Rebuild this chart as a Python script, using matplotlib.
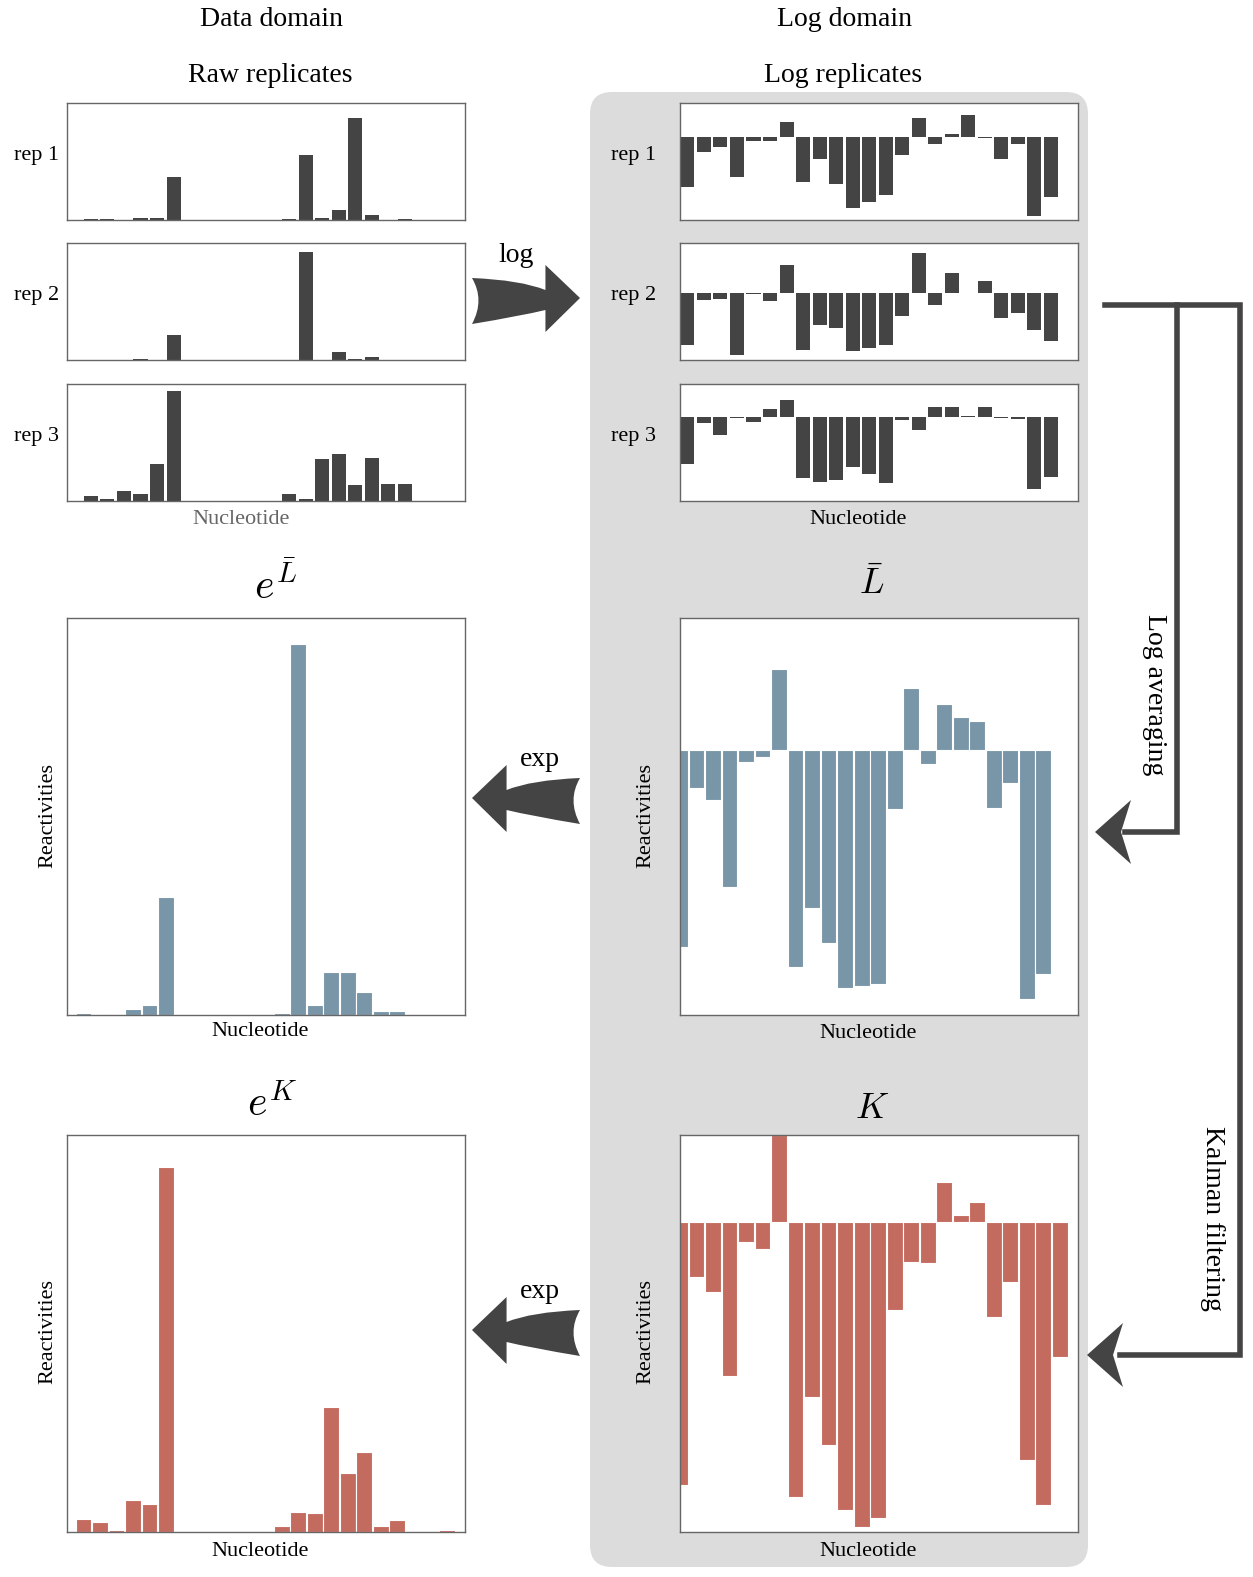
import matplotlib
matplotlib.use('Agg')
import matplotlib.pyplot as plt
import numpy as np
from matplotlib.patches import FancyBboxPatch, PathPatch
from matplotlib.path import Path

plt.rcParams['font.family'] = ['Liberation Serif', 'DejaVu Serif']
plt.rcParams['mathtext.fontset'] = 'cm'

W, H = 1253, 1577
N = 24
idx = np.arange(N)

# raw replicates (data domain)
raw1 = [0, 1, 1, 0, 2, 2, 43, 0, 0, 0, 0, 0, 0, 1, 65, 2, 10, 102, 5, 0, 1, 0, 0, 0]
raw2 = [0, 0, 0, 0, 1, 0, 25, 0, 0, 0, 0, 0, 0, 0, 108, 0, 8, 1, 3, 0, 0, 0, 0, 0]
raw3 = [0, 5, 2, 10, 7, 37, 110, 0, 0, 0, 0, 0, 0, 7, 2, 42, 47, 16, 43, 17, 17, 0, 0, 0]
# log replicates
log1 = [-50, -15, -10, -40, -4, -4, 15, -45, -22, -47, -71, -65, -58, -18, 19, -7, 3, 22, -1, -22, -7, -79, -60, 0]
log2 = [-52, -7, -6, -62, -1, -8, 28, -57, -32, -35, -58, -55, -52, -23, 40, -12, 20, 0, 12, -25, -20, -37, -48, 0]
log3 = [-47, -6, -18, -1, -5, 8, 17, -61, -65, -63, -50, -57, -66, -3, -13, 10, 10, 1, 10, -1, -2, -72, -60, 0]
# log average and its exp
lbar = [-197, -38, -50, -137, -12, -7, 81, -217, -158, -193, -238, -236, -234, -59, 62, -14, 46, 33, 29, -58, -33, -249, -224, 0]
exp_lbar = [0, 2, 1, 1, 6, 10, 118, 0, 0, 0, 0, 0, 0, 2, 371, 10, 43, 43, 23, 4, 4, 0, 0, 0]
# kalman filtered and its exp
kal = [-263, -55, -70, -154, -20, -27, 87, -275, -175, -223, -288, -305, -296, -88, -40, -41, 40, 7, 20, -95, -60, -238, -283, -135]
exp_kal = [0, 13, 10, 2, 32, 28, 365, 1, 0, 0, 0, 0, 0, 6, 20, 19, 125, 59, 80, 6, 12, 0, 0, 2]

DARK = '#444444'
BLUE = '#7896a8'
RED = '#c46b60'

fig = plt.figure(figsize=(W / 100, H / 100), dpi=100)

# overlay for decorations in pixel coords
ov = fig.add_axes([0, 0, 1, 1])
ov.set_xlim(0, W)
ov.set_ylim(H, 0)
ov.axis('off')
ov.add_patch(FancyBboxPatch((590, 92), 498, 1475, boxstyle='round,pad=0,rounding_size=22',
                            fc='#dcdcdc', ec='none', zorder=0))


def pax(x0, y0, x1, y1, xlim=(0, 24.1)):
    a = fig.add_axes([x0 / W, 1 - y1 / H, (x1 - x0) / W, (y1 - y0) / H])
    a.set_facecolor('white')
    a.set_xticks([])
    a.set_yticks([])
    for s in a.spines.values():
        s.set_color('#666666')
        s.set_linewidth(1)
    a.set_xlim(*xlim)
    return a


def bars(a, vals, color, width, ylim):
    a.bar(idx, vals, width=width, color=color, edgecolor='white' if width > 0.9 else 'none', linewidth=0.8)
    a.set_ylim(*ylim)


rep_y = [(103, 220), (243, 360), (384, 501)]
raws = [raw1, raw2, raw3]
logs = [log1, log2, log3]
log_ylims = [(-83, 34), (-67, 50), (-84, 33)]
for k in range(3):
    y0, y1 = rep_y[k]
    a = pax(67, y0, 465, y1, xlim=(-0.45, 23.65))
    bars(a, raws[k], DARK, 0.85, (0, 117))
    a.text(-0.02, 0.55, 'rep %d' % (k + 1), transform=a.transAxes, ha='right', va='center', fontsize=16)
    b = pax(680, y0, 1078, y1, xlim=(-0.45, 23.65))
    bars(b, logs[k], DARK, 0.85, log_ylims[k])
    b.text(-0.06, 0.55, 'rep %d' % (k + 1), transform=b.transAxes, ha='right', va='center', fontsize=16)

a = pax(67, 618, 465, 1015)
bars(a, exp_lbar, BLUE, 0.95, (0, 397))
a = pax(680, 618, 1078, 1015)
bars(a, lbar, BLUE, 0.95, (-265, 132))
a = pax(67, 1135, 465, 1532)
bars(a, exp_kal, RED, 0.95, (0, 397))
a = pax(680, 1135, 1078, 1532)
bars(a, kal, RED, 0.95, (-310, 87))

# texts
t = dict(ha='center', va='center', fontsize=20)
ov.text(272, 20, 'Data domain', **t)
ov.text(845, 20, 'Log domain', **t)
ov.text(270, 75, 'Raw replicates', **t)
ov.text(843, 75, 'Log replicates', **t)
ov.text(241, 520, 'Nucleotide', ha='center', va='center', fontsize=16, color='#666666')
ov.text(858, 520, 'Nucleotide', ha='center', va='center', fontsize=16)
for y in (1031, 1552):
    ov.text(260, y, 'Nucleotide', ha='center', va='center', fontsize=16)
for y in (1034, 1552):
    ov.text(868, y, 'Nucleotide', ha='center', va='center', fontsize=16)
for x in (48, 646):
    for y in (815, 1332):
        ov.text(x, y, 'Reactivities', ha='center', va='center', rotation=90, fontsize=16)
ov.text(275, 585, r'$e^{\bar{L}}$', ha='center', va='center', fontsize=30)
ov.text(872, 585, r'$\bar{L}$', ha='center', va='center', fontsize=26)
ov.text(272, 1105, r'$e^{K}$', ha='center', va='center', fontsize=30)
ov.text(872, 1110, r'$K$', ha='center', va='center', fontsize=26)
ov.text(516, 255, 'log', ha='center', va='center', fontsize=20)
ov.text(540, 760, 'exp', ha='center', va='center', fontsize=20)
ov.text(540, 1292, 'exp', ha='center', va='center', fontsize=20)
ov.text(1155, 695, 'Log averaging', ha='center', va='center', rotation=-90, fontsize=20)
ov.text(1212, 1218, 'Kalman filtering', ha='center', va='center', rotation=-90, fontsize=20)


def big_arrow(tail_x, tip_x, y):
    d = 1 if tip_x > tail_x else -1
    L = abs(tip_x - tail_x)
    def px(f):
        return tail_x + d * f * L
    verts = [(px(0), y - 22), (px(0.45), y - 20), (px(0.68), y - 10),
             (px(0.68), y - 35), (px(1.0), y - 2), (px(0.68), y + 32),
             (px(0.68), y + 10), (px(0.45), y + 16), (px(0.0), y + 24),
             (px(0.12), y), (px(0), y - 22), (px(0), y - 22)]
    codes = [Path.MOVETO, Path.CURVE3, Path.CURVE3, Path.LINETO, Path.LINETO, Path.LINETO,
             Path.LINETO, Path.CURVE3, Path.CURVE3, Path.CURVE3, Path.CURVE3, Path.CLOSEPOLY]
    ov.add_patch(PathPatch(Path(verts, codes), fc=DARK, ec='none'))


big_arrow(472, 580, 300)
big_arrow(580, 472, 800)
big_arrow(580, 472, 1332)

# connector lines
lw = 4
ov.plot([1105, 1240, 1240, 1120], [305, 305, 1355, 1355], color=DARK, lw=lw, solid_joinstyle='miter')
ov.plot([1177, 1177, 1125], [305, 832, 832], color=DARK, lw=lw, solid_joinstyle='miter')


def head(tip_x, y):
    verts = [(tip_x, y), (tip_x + 36, y - 32), (tip_x + 26, y), (tip_x + 36, y + 32), (tip_x, y)]
    ov.add_patch(PathPatch(Path(verts), fc=DARK, ec='none'))


head(1095, 832)
head(1087, 1355)

fig.savefig('out.png', dpi=100)
